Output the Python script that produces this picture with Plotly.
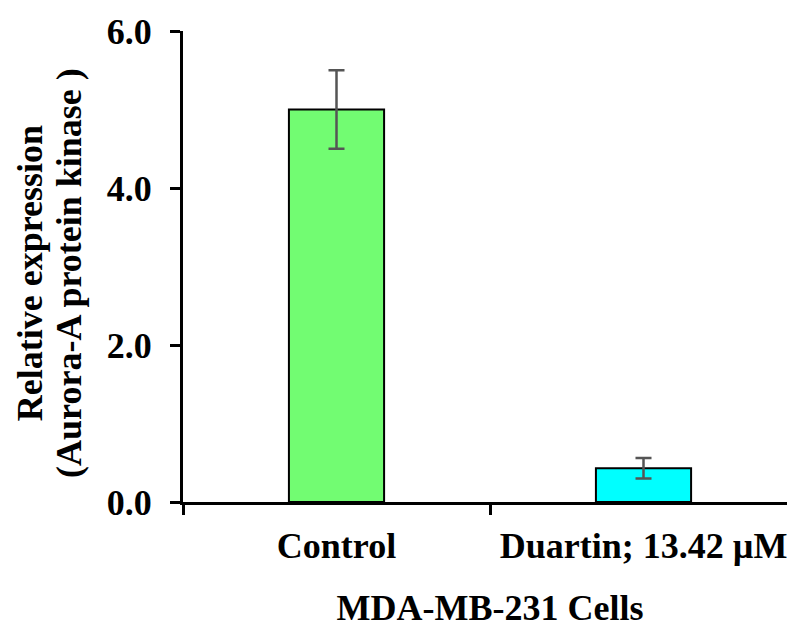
import plotly.graph_objects as go

categories = ["Control", "Duartin; 13.42 µM"]
values = [5.0, 0.43]
errors = [0.5, 0.13]
colors = ["#72FC72", "#00FFFF"]
y_ticks = [0, 2, 4, 6]
y_ticklabels = ["0.0", "2.0", "4.0", "6.0"]

FONT = "Liberation Serif, Times New Roman, serif"
FS = 36

fig = go.Figure()
fig.add_trace(go.Bar(
    x=categories, y=values,
    marker=dict(color=colors, line=dict(color="black", width=2)),
    width=0.31,
    error_y=dict(type="data", array=errors, visible=True,
                 color="#555555", thickness=2.5, width=8),
))

# page body has an 8px default margin; compensate in figure size/margins
fig.update_layout(
    width=789, height=620,
    margin=dict(l=175, r=0, t=23, b=126, autoexpand=False),
    plot_bgcolor="white", paper_bgcolor="white",
    showlegend=False,
    font=dict(family=FONT, size=FS, color="black", weight="bold"),
    xaxis=dict(
        type="category", range=[-0.5, 1.5], automargin=False,
        showline=True, linecolor="black", linewidth=3,
        ticks="outside", tickson="boundaries", ticklen=10, tickwidth=3, tickcolor="black",
        tickfont=dict(family=FONT, size=FS, color="black", weight="bold"),
        ticklabelstandoff=10,
        title=dict(text="MDA-MB-231 Cells", font=dict(family=FONT, size=FS, color="black", weight="bold"), standoff=34),
        showgrid=False, zeroline=False,
    ),
    yaxis=dict(
        range=[0, 6], tickvals=y_ticks, ticktext=y_ticklabels, automargin=False,
        showline=True, linecolor="black", linewidth=3,
        ticks="outside", ticklen=10, tickwidth=3, tickcolor="black",
        tickfont=dict(family=FONT, size=FS, color="black", weight="bold"),
        ticklabelstandoff=11,
        showgrid=False, zeroline=False,
    ),
    annotations=[
        dict(text="Relative expression", xref="paper", yref="paper", x=-0.249, y=0.486,
             textangle=-90, showarrow=False, xanchor="center", yanchor="middle",
             font=dict(family=FONT, size=FS, color="black", weight="bold")),
        dict(text="(Aurora-A protein kinase )", xref="paper", yref="paper", x=-0.186, y=0.486,
             textangle=-90, showarrow=False, xanchor="center", yanchor="middle",
             font=dict(family=FONT, size=FS, color="black", weight="bold")),
    ],
)

fig.write_html("out.html")
